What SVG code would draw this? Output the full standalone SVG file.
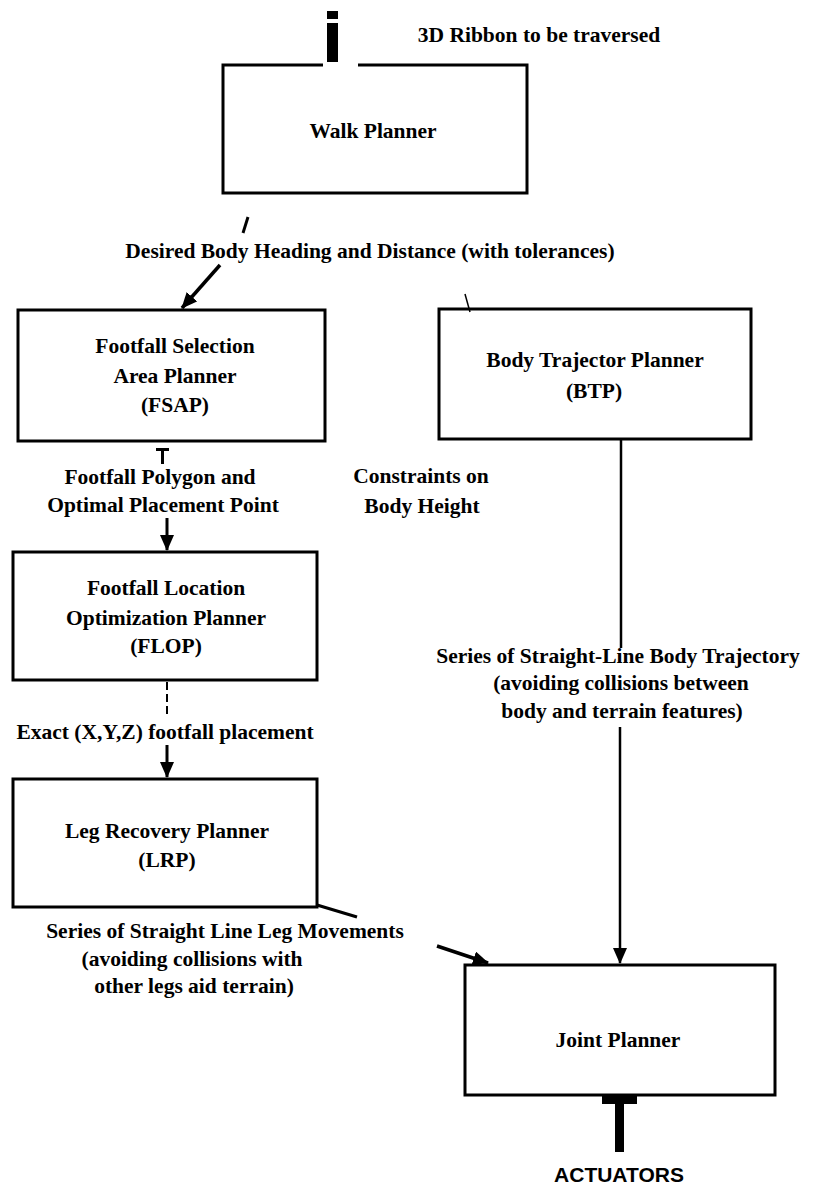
<svg xmlns="http://www.w3.org/2000/svg" width="813" height="1186" viewBox="0 0 813 1186">
<style>
.box{fill:#fff;stroke:#000;stroke-width:3}
.t{font-family:"Liberation Serif","Times New Roman",serif;font-weight:bold;font-size:21.5px;fill:#000;text-anchor:middle}
.s{font-family:"Liberation Sans",Arial,sans-serif;font-weight:bold;font-size:21px;fill:#000;text-anchor:middle}
.c{stroke:#000;fill:none}
</style>
<defs>
<marker id="ah" viewBox="0 0 16 14" refX="15" refY="7" markerWidth="16" markerHeight="14" markerUnits="userSpaceOnUse" orient="auto">
<path d="M0,0 L16,7 L0,14 z" fill="#000"/>
</marker>
</defs>
<rect width="813" height="1186" fill="#fff"/>

<g id="walk-planner">
<path d="M358,65 H527 V193 H223 V65 H323" fill="#fff" stroke="#000" stroke-width="3"/>
<text class="t" x="373" y="138">Walk Planner</text>
</g>

<g id="fsap">
<rect class="box" x="18" y="310" width="307" height="131"/>
<text class="t" x="175" y="353">Footfall Selection</text>
<text class="t" x="175" y="383">Area Planner</text>
<text class="t" x="175" y="412">(FSAP)</text>
</g>

<g id="btp">
<rect class="box" x="439" y="309" width="312" height="130"/>
<text class="t" x="595" y="367">Body Trajector Planner</text>
<text class="t" x="594" y="398">(BTP)</text>
</g>

<g id="flop">
<rect class="box" x="13" y="552" width="304" height="128"/>
<text class="t" x="166" y="595">Footfall Location</text>
<text class="t" x="166" y="625">Optimization Planner</text>
<text class="t" x="166" y="653">(FLOP)</text>
</g>

<g id="lrp">
<rect class="box" x="13" y="779" width="304" height="128"/>
<text class="t" x="167" y="838">Leg Recovery Planner</text>
<text class="t" x="167" y="867">(LRP)</text>
</g>

<g id="joint-planner">
<rect class="box" x="465" y="965" width="310" height="130"/>
<text class="t" x="618" y="1047">Joint Planner</text>
</g>

<g id="connectors">
<!-- input to walk planner -->
<rect x="327" y="11" width="11" height="8" fill="#000"/>
<rect x="327" y="23" width="11" height="39" fill="#000"/>
<!-- walk planner to heading label -->
<line class="c" x1="248" y1="217" x2="243" y2="233" stroke-width="3"/>
<!-- label to FSAP -->
<line class="c" x1="220" y1="265" x2="182" y2="308" stroke-width="3.5" marker-end="url(#ah)"/>
<!-- label to BTP -->
<line class="c" x1="465" y1="294" x2="470" y2="312" stroke-width="1.5"/>
<!-- FSAP stub -->
<line class="c" x1="156" y1="449.5" x2="169" y2="449.5" stroke-width="3"/>
<line class="c" x1="162.5" y1="449" x2="162.5" y2="464" stroke-width="3"/>
<!-- polygon label to FLOP -->
<line class="c" x1="167" y1="518" x2="167" y2="550" stroke-width="3" marker-end="url(#ah)"/>
<!-- FLOP to exact label -->
<line class="c" x1="167" y1="682" x2="167" y2="715" stroke-width="2" stroke-dasharray="8 4"/>
<!-- exact label to LRP -->
<line class="c" x1="167" y1="745" x2="167" y2="777" stroke-width="3" marker-end="url(#ah)"/>
<!-- LRP to leg label -->
<line class="c" x1="317" y1="905" x2="357" y2="917" stroke-width="3"/>
<!-- leg label to Joint Planner -->
<line class="c" x1="437" y1="946" x2="488" y2="963" stroke-width="3.5" marker-end="url(#ah)"/>
<!-- BTP to trajectory label -->
<line class="c" x1="621" y1="440" x2="621" y2="648" stroke-width="2.5"/>
<!-- trajectory label to Joint Planner -->
<line class="c" x1="620" y1="727" x2="620" y2="963" stroke-width="2.5" marker-end="url(#ah)"/>
<!-- Joint planner to actuators -->
<rect x="602" y="1095" width="35" height="9" fill="#000"/>
<rect x="615" y="1103" width="9" height="49" fill="#000"/>
</g>

<g id="labels">
<text class="t" x="539" y="42">3D Ribbon to be traversed</text>
<text class="t" x="370" y="258">Desired Body Heading and Distance (with tolerances)</text>
<text class="t" x="160" y="484">Footfall Polygon and</text>
<text class="t" x="163" y="512">Optimal Placement Point</text>
<text class="t" x="421" y="483">Constraints on</text>
<text class="t" x="422" y="513">Body Height</text>
<text class="t" x="618" y="663">Series of Straight-Line Body Trajectory</text>
<text class="t" x="621" y="690">(avoiding collisions between</text>
<text class="t" x="622" y="718">body and terrain features)</text>
<text class="t" x="165" y="739">Exact (X,Y,Z) footfall placement</text>
<text class="t" x="225" y="938">Series of Straight Line Leg Movements</text>
<text class="t" x="192" y="966">(avoiding collisions with</text>
<text class="t" x="194" y="993">other legs aid terrain)</text>
<text class="s" x="619" y="1182">ACTUATORS</text>
</g>
</svg>
